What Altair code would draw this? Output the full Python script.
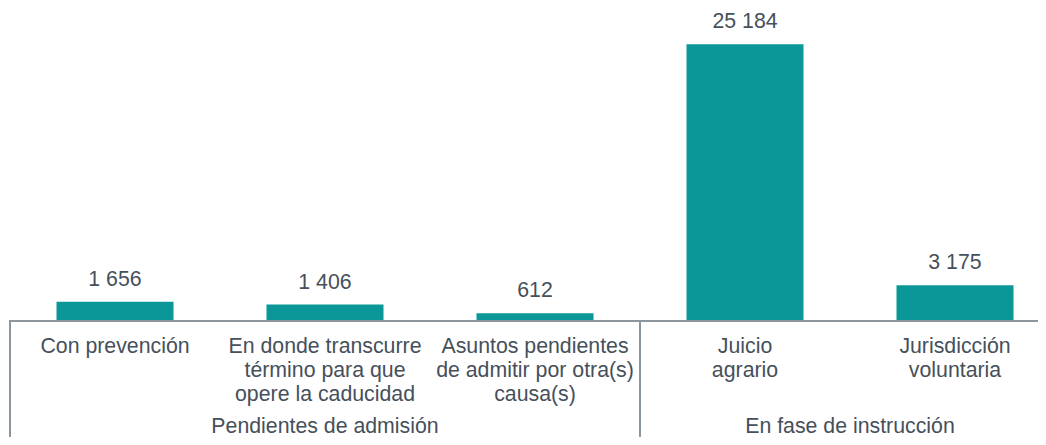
import altair as alt
import pandas as pd

categories = [
    "Con prevención",
    "En donde transcurre\ntérmino para que\nopere la caducidad",
    "Asuntos pendientes\nde admitir por otra(s)\ncausa(s)",
    "Juicio\nagrario",
    "Jurisdicción\nvoluntaria",
]
values = [1656, 1406, 612, 25184, 3175]
groups = ["Pendientes de admisión", "En fase de instrucción"]
group_centers = [1.0, 3.5]
group_bounds = [-0.5, 2.5]

W, H = 1028, 312
FONT = "Liberation Sans"
FS = 21.3
TXT = "#46505a"
LINE = "#8c969f"
BAR = "#0b9797"

df = pd.DataFrame({
    "idx": list(range(len(categories))),
    "cat": categories,
    "value": values,
    "label": [f"{v:,}".replace(",", " ") for v in values],
})
gdf = pd.DataFrame({"g": groups, "gx": group_centers})
bdf = pd.DataFrame({"bx": group_bounds})

xs = alt.Scale(domain=[-0.5, -0.5 + W / 210], nice=False, zero=False, padding=0)
ys = alt.Scale(domain=[0, 28500], nice=False)

base = alt.Chart(df)
bars = base.mark_bar(color=BAR, size=117).encode(
    x=alt.X("idx:Q", scale=xs, axis=None),
    y=alt.Y("value:Q", scale=ys, axis=None),
)
vals = base.mark_text(font=FONT, fontSize=FS, color=TXT, baseline="alphabetic", dy=-16).encode(
    x=alt.X("idx:Q", scale=xs),
    y=alt.Y("value:Q", scale=ys),
    text="label:N",
)
cats = base.mark_text(font=FONT, fontSize=FS, color=TXT, baseline="alphabetic",
                      lineBreak="\n", lineHeight=24).encode(
    x=alt.X("idx:Q", scale=xs),
    y=alt.value(H + 32.7),
    text="cat:N",
)
axis_line = alt.Chart(df).mark_rule(color=LINE, strokeWidth=2).encode(
    x=alt.value(0), x2=alt.value(W), y=alt.value(H + 1)
)
seps = alt.Chart(bdf).mark_rule(color=LINE, strokeWidth=2).encode(
    x=alt.X("bx:Q", scale=xs), y=alt.value(H), y2=alt.value(H + 130)
)
glabels = alt.Chart(gdf).mark_text(font=FONT, fontSize=FS, color=TXT, baseline="alphabetic").encode(
    x=alt.X("gx:Q", scale=xs),
    y=alt.value(H + 113),
    text="g:N",
)

chart = alt.layer(bars, vals, cats, seps, axis_line, glabels).properties(
    width=W, height=H,
    autosize=alt.AutoSizeParams(type="none"),
    padding={"left": 2, "top": 0, "right": 0, "bottom": 117},
).configure(background="white").configure_view(stroke=None)

chart.save("out.html", embed_options={"renderer": "svg", "actions": False})
